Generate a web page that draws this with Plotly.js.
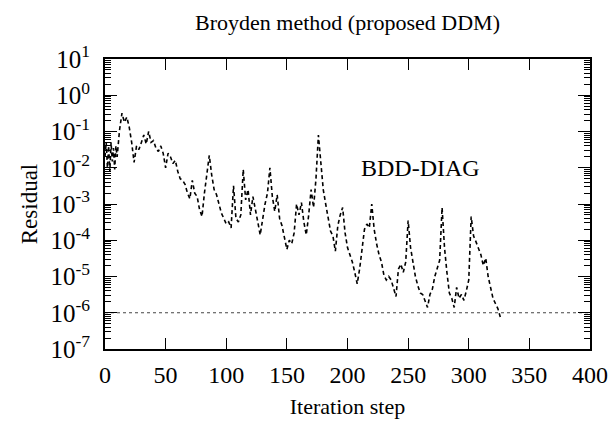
<!DOCTYPE html>
<html>
<head>
<meta charset="utf-8">
<script src="https://cdn.plot.ly/plotly-3.0.1.min.js"></script>
<style>html,body{margin:0;padding:0;background:#fff;}#chart{width:613px;height:423px;}</style>
</head>
<body>
<div id="chart"></div>
<script>
// Iteration steps and residuals (BDD-DIAG)
const iterations = [0,1,2,3,4,5,6,7,8,9,10,11,12,14,16,18,20,22,24,26,28,30,32,34,36,38,40,42,44,46,48,50,
  52,54,56,58,60,62,64,66,68,70,72,74,76,78,80,82,84,86,88,90,92,94,96,98,100,
  102,104,106,108,110,112,114,116,118,120,122,124,126,128,130,132,134,136,138,140,
  142,144,146,148,150,152,154,156,158,160,162,164,166,168,170,172,174,176,178,180,
  182,184,186,188,190,192,194,196,198,200,202,204,206,208,210,212,214,216,218,220,
  222,224,226,228,230,232,234,236,238,240,242,244,246,248,250,252,254,256,258,260,
  262,264,266,268,270,272,274,276,278,280,282,284,286,288,290,292,294,296,298,300,
  302,304,306,308,310,312,314,316,318,320,322,324,326];
const residuals = [2e-2,5e-2,1e-2,4e-2,8e-3,5e-2,1.5e-2,3.5e-2,9e-3,4e-2,2e-2,6e-2,1.1e-1,3.2e-1,1.8e-1,2.5e-1,1.3e-1,5e-2,1.4e-2,4e-2,3.2e-2,5e-2,8e-2,4.5e-2,1e-1,5e-2,5.6e-2,3.5e-2,2.8e-2,4e-2,2.5e-2,1e-2,
  2.5e-2,2e-2,1.3e-2,1.6e-2,8e-3,5e-3,4.5e-3,3.5e-3,2e-3,1.4e-3,4.5e-3,2e-3,1.6e-3,7e-4,4.5e-4,2e-3,6.3e-3,2.2e-2,6.3e-3,2.5e-3,1.8e-3,1e-3,5.6e-4,4e-4,2.8e-4,
  3.2e-4,2.2e-4,3.2e-3,4e-4,3.2e-4,5e-4,9e-3,1.3e-3,2.5e-3,5e-4,1.6e-3,6.3e-4,3.2e-4,1.4e-4,4e-4,1e-3,2e-3,1e-2,1.6e-3,6.3e-4,
  1.8e-3,4e-4,2.5e-4,1.3e-4,5.6e-5,1e-4,8e-5,1.6e-4,1e-3,5e-4,1.1e-3,3.2e-4,1.4e-4,5e-4,2.5e-3,8e-4,5e-3,8e-2,1.6e-2,2.5e-3,
  1e-3,4e-4,1.8e-4,1.3e-4,5e-5,2.5e-4,5e-4,8e-4,1.6e-4,6.3e-5,4e-5,2.5e-5,1.3e-5,6.3e-6,1.6e-5,5e-5,2e-4,2.8e-4,2.2e-4,1e-3,
  2e-4,8e-5,4e-5,2.5e-5,1.1e-5,8e-6,1e-5,8e-6,4.5e-6,2.8e-6,1.6e-5,2.2e-5,1.3e-5,2.5e-5,3.5e-4,6.3e-5,2.5e-5,1e-5,5.6e-6,3.5e-6,
  3.2e-6,2e-6,1.4e-6,3.2e-6,4.5e-6,1e-5,1.6e-5,2.8e-5,8e-4,6.3e-5,1.3e-5,3.5e-6,2.5e-6,1.4e-6,5e-6,2.5e-6,3.2e-6,2.2e-6,4e-6,8e-6,
  4.5e-4,1.3e-4,9e-5,5.6e-5,4e-5,2e-5,3.2e-5,1e-5,5e-6,2.5e-6,1.8e-6,1.3e-6,7.6e-7];
const toleranceX = [0, 400];
const toleranceY = [1e-6, 1e-6];
const yTickVals = [1e-7,1e-6,1e-5,1e-4,1e-3,1e-2,1e-1,1e0,1e1];
const yTickText = ['10<sup>-7</sup>','10<sup>-6</sup>','10<sup>-5</sup>','10<sup>-4</sup>','10<sup>-3</sup>','10<sup>-2</sup>','10<sup>-1</sup>','10<sup>0</sup>','10<sup>1</sup>'];
const xTickVals = [0,50,100,150,200,250,300,350,400];
const labelText = 'BDD-DIAG';

// minor tick positions on the log axis (2..9 in each decade)
const yMinor = [];
for (let e = -7; e < 1; e++) for (let m = 2; m <= 9; m++) yMinor.push(m * Math.pow(10, e));

const serif = "'Liberation Serif', 'Times New Roman', Times, serif";
const traces = [
  {x: toleranceX, y: toleranceY, mode: 'lines', line: {color: '#444', width: 1, dash: 'dot'}, hoverinfo: 'skip'},
  {x: iterations, y: residuals, mode: 'lines', line: {color: '#000', width: 1.6, dash: '4px,3px'}}
];
const layout = {
  width: 613, height: 423,
  margin: {l: 105, r: 23, t: 59, b: 74},
  paper_bgcolor: '#fff', plot_bgcolor: '#fff',
  showlegend: false,
  font: {family: serif, color: '#000', size: 24},
  title: {text: 'Broyden method (proposed DDM)', font: {family: serif, size: 22, color: '#000'},
          x: 0.567, xanchor: 'center', y: 0.948, yanchor: 'middle', yref: 'container'},
  xaxis: {
    range: [0, 400], tickmode: 'array', tickvals: xTickVals,
    ticks: 'inside', ticklen: 11, tickwidth: 1, tickcolor: '#000',
    showline: true, linewidth: 2, linecolor: '#000', mirror: 'ticks',
    showgrid: false, zeroline: false,
    tickfont: {family: serif, size: 24}, ticklabelstandoff: 3,
    title: {text: 'Iteration step', font: {family: serif, size: 22}, standoff: 12}
  },
  yaxis: {
    type: 'log', range: [-7, 1], tickmode: 'array', tickvals: yTickVals, ticktext: yTickText,
    ticks: 'inside', ticklen: 12, tickwidth: 1, tickcolor: '#000',
    minor: {tickmode: 'array', tickvals: yMinor, ticks: 'inside', ticklen: 6, tickcolor: '#000', showgrid: false},
    showline: true, linewidth: 2, linecolor: '#000', mirror: 'ticks',
    showgrid: false, zeroline: false,
    tickfont: {family: serif, size: 25}, ticklabelstandoff: 8,
    title: {text: 'Residual', font: {family: serif, size: 23}, standoff: 6}
  },
  annotations: [{x: 260, y: -2, xref: 'x', yref: 'y', text: labelText, showarrow: false,
                 font: {family: serif, size: 24, color: '#000'}}]
};
Plotly.newPlot('chart', traces, layout, {displayModeBar: false, staticPlot: true});
</script>
</body>
</html>
